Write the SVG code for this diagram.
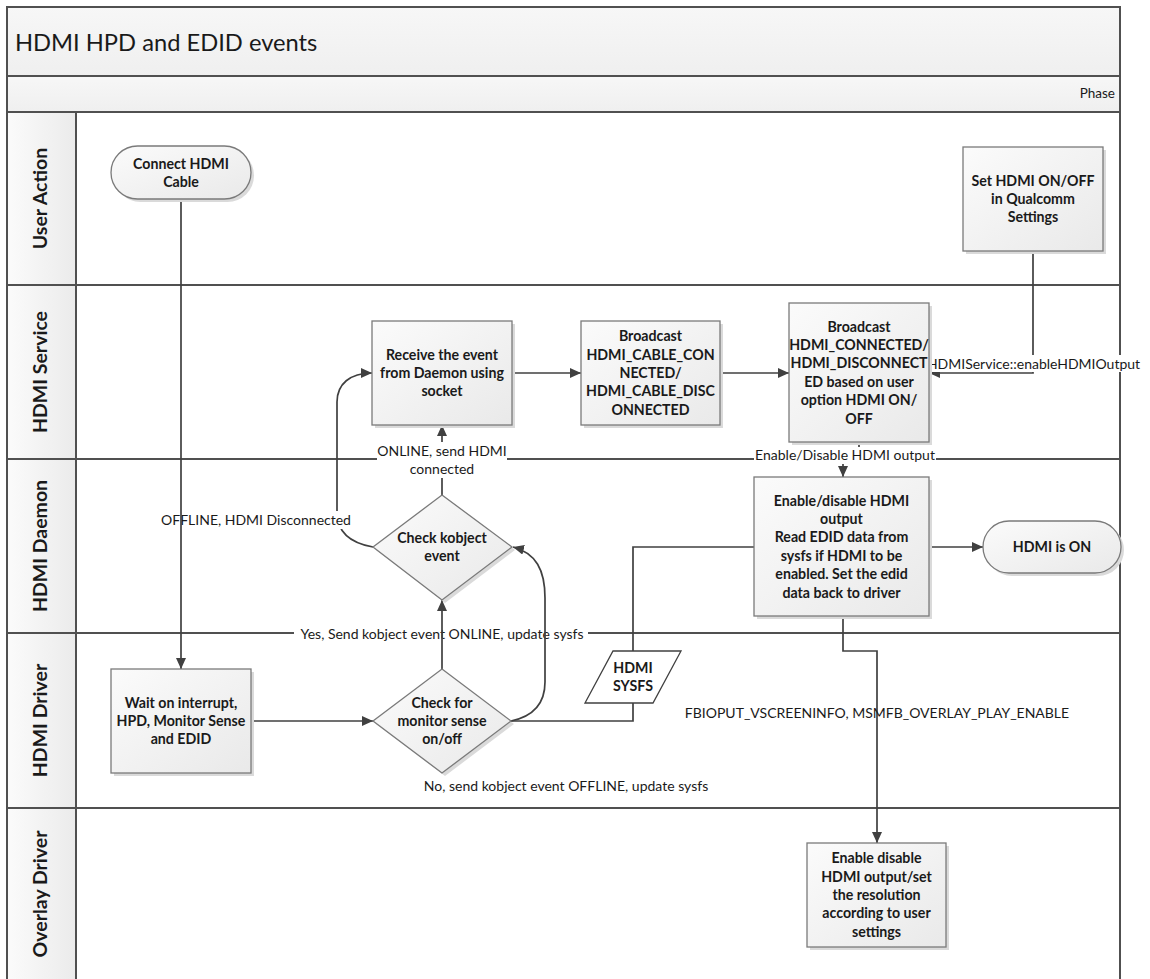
<svg xmlns="http://www.w3.org/2000/svg" width="1150" height="979" viewBox="0 0 1150 979">
  <defs>
    <linearGradient id="bandFill" x1="0" y1="0" x2="0" y2="1">
      <stop offset="0" stop-color="#f7f7f7"/>
      <stop offset="1" stop-color="#efefef"/>
    </linearGradient>
    <linearGradient id="laneHead" x1="0" y1="0" x2="1" y2="0">
      <stop offset="0" stop-color="#fbfbfb"/>
      <stop offset="1" stop-color="#ebebeb"/>
    </linearGradient>
    <linearGradient id="nodeFill" x1="0" y1="0" x2="1" y2="1">
      <stop offset="0" stop-color="#fbfbfb"/>
      <stop offset="1" stop-color="#e9e9e9"/>
    </linearGradient>
    <marker id="arrow" markerUnits="userSpaceOnUse" markerWidth="11" markerHeight="10" refX="11" refY="5" orient="auto">
      <path d="M0,0 L11,5 L0,10 z" fill="#404040"/>
    </marker>
    <style>
      .frame { fill: none; stroke: #505050; stroke-width: 2; }
      .lane { stroke: #505050; stroke-width: 2; }
      .lanetxt { font-family: Lato, "Liberation Sans", sans-serif; font-weight: 700; font-size: 19.5px; fill: #1a1a1a; text-anchor: middle; }
      .box { fill: url(#nodeFill); stroke: #7a7a7a; stroke-width: 1.3; }
      .shadow { fill: #dadada; }
      .nt { font-family: Lato, "Liberation Sans", sans-serif; font-weight: 700; font-size: 14.2px; fill: #1a1a1a; text-anchor: middle; }
      .lb { font-family: Lato, "Liberation Sans", sans-serif; font-weight: 400; font-size: 14px; fill: #1a1a1a; text-anchor: middle; }
      .bg { fill: #ffffff; }
      .conn { fill: none; stroke: #404040; stroke-width: 1.7; }
    </style>
  </defs>

  <rect x="0" y="0" width="1150" height="979" fill="#ffffff"/>

  <!-- pool: title band, phase band, lane headers -->
  <g id="pool">
    <rect x="7" y="7" width="1113" height="69" fill="url(#bandFill)"/>
    <rect x="7" y="76" width="1113" height="36" fill="url(#bandFill)"/>
    <rect x="7" y="112" width="69" height="870" fill="url(#laneHead)"/>
    <text x="15" y="51" font-family="Lato, 'Liberation Sans', sans-serif" font-size="23.7" fill="#1a1a1a">HDMI HPD and EDID events</text>
    <text x="1115" y="98" font-family="Lato, 'Liberation Sans', sans-serif" font-size="13.5" fill="#1a1a1a" text-anchor="end">Phase</text>
    <path class="frame" d="M7,985 V7 H1120 V985"/>
    <line class="lane" x1="7" y1="76" x2="1120" y2="76"/>
    <line class="lane" x1="7" y1="112" x2="1120" y2="112"/>
    <line class="lane" x1="76" y1="112" x2="76" y2="985"/>
    <line class="lane" x1="7" y1="285" x2="1120" y2="285"/>
    <line class="lane" x1="7" y1="459" x2="1120" y2="459"/>
    <line class="lane" x1="7" y1="633" x2="1120" y2="633"/>
    <line class="lane" x1="7" y1="808" x2="1120" y2="808"/>
  </g>

  <g id="lane-user-action"><text class="lanetxt" transform="translate(47,198.5) rotate(-90)">User Action</text></g>
  <g id="lane-hdmi-service"><text class="lanetxt" transform="translate(47,372) rotate(-90)">HDMI Service</text></g>
  <g id="lane-hdmi-daemon"><text class="lanetxt" transform="translate(47,546) rotate(-90)">HDMI Daemon</text></g>
  <g id="lane-hdmi-driver"><text class="lanetxt" transform="translate(47,720.5) rotate(-90)">HDMI Driver</text></g>
  <g id="lane-overlay-driver"><text class="lanetxt" transform="translate(47,894) rotate(-90)">Overlay Driver</text></g>

  <!-- connectors and their labels -->
  <g id="connectors">
    <!-- OFFLINE branch back to the service -->
    <path class="conn" d="M373,547 C350,543 337,532 337,512 L337,402 C337,384 350,373 372,373" marker-end="url(#arrow)"/>
    <rect class="bg" x="164" y="511" width="184" height="18"/>
    <text class="lb" x="256" y="525">OFFLINE, HDMI Disconnected</text>

    <!-- ONLINE branch up to the service -->
    <path class="conn" d="M442,495 V425" marker-end="url(#arrow)"/>
    <rect class="bg" x="377" y="442" width="130" height="36"/>
    <text class="lb" x="442" y="456">ONLINE, send HDMI</text>
    <text class="lb" x="442" y="474">connected</text>

    <!-- settings to service -->
    <path class="conn" d="M1033,251 V373 H929" marker-end="url(#arrow)"/>
    <rect class="bg" x="926" y="355" width="215" height="17"/>
    <text class="lb" x="1033.5" y="369">HDMIService::enableHDMIOutput</text>

    <!-- service to daemon -->
    <path class="conn" d="M859,442 V452 H843 V477" marker-end="url(#arrow)"/>
    <rect class="bg" x="754" y="447" width="182" height="17"/>
    <text class="lb" x="845" y="460">Enable/Disable HDMI output</text>

    <!-- Yes branch: driver check to kobject check -->
    <rect class="bg" x="294" y="625" width="294" height="18"/>
    <text class="lb" x="442" y="639">Yes, Send kobject event ONLINE, update sysfs</text>
    <path class="conn" d="M442,669 V600" marker-end="url(#arrow)"/>

    <!-- No branch -->
    <path class="conn" d="M511,721 C535,716 545,702 545,682 L545,598 C545,570 536,553 513,547" marker-end="url(#arrow)"/>
    <text class="lb" x="566" y="791">No, send kobject event OFFLINE, update sysfs</text>

    <!-- cable plug to driver wait -->
    <path class="conn" d="M181,199 V669" marker-end="url(#arrow)"/>

    <!-- driver wait to monitor sense check -->
    <path class="conn" d="M251,721 H373" marker-end="url(#arrow)"/>

    <!-- sysfs path -->
    <path class="conn" d="M511,721 H633 V703"/>
    <path class="conn" d="M633,651 V547 H754"/>

    <!-- service row -->
    <path class="conn" d="M512,373 H581" marker-end="url(#arrow)"/>
    <path class="conn" d="M720,373 H789" marker-end="url(#arrow)"/>

    <!-- daemon to HDMI is ON -->
    <path class="conn" d="M929,547 H983" marker-end="url(#arrow)"/>

    <!-- daemon to overlay driver -->
    <path class="conn" d="M843,616 V651 H877 V843" marker-end="url(#arrow)"/>
    <text class="lb" x="877" y="718">FBIOPUT_VSCREENINFO, MSMFB_OVERLAY_PLAY_ENABLE</text>
  </g>

  <!-- nodes -->
  <g id="connect-hdmi-cable">
    <rect class="shadow" x="114" y="149" width="140" height="53" rx="26.5"/>
    <rect class="box" x="111" y="146" width="140" height="53" rx="26.5"/>
    <text class="nt" x="181" y="168.5">Connect HDMI</text>
    <text class="nt" x="181" y="186.8">Cable</text>
  </g>

  <g id="set-hdmi-on-off">
    <rect class="shadow" x="966" y="150" width="140" height="104"/>
    <rect class="box" x="963" y="147" width="140" height="104"/>
    <text class="nt" x="1033" y="185.7">Set HDMI ON/OFF</text>
    <text class="nt" x="1033" y="204">in Qualcomm</text>
    <text class="nt" x="1033" y="222.3">Settings</text>
  </g>

  <g id="receive-event">
    <rect class="shadow" x="375" y="324" width="140" height="104"/>
    <rect class="box" x="372" y="321" width="140" height="104"/>
    <text class="nt" x="442" y="359.7">Receive the event</text>
    <text class="nt" x="442" y="378">from Daemon using</text>
    <text class="nt" x="442" y="396.3">socket</text>
  </g>

  <g id="broadcast-cable">
    <rect class="shadow" x="584" y="324" width="139" height="104"/>
    <rect class="box" x="581" y="321" width="139" height="104"/>
    <text class="nt" x="650.5" y="341.4">Broadcast</text>
    <text class="nt" x="650.5" y="359.7">HDMI_CABLE_CON</text>
    <text class="nt" x="650.5" y="378">NECTED/</text>
    <text class="nt" x="650.5" y="396.3">HDMI_CABLE_DISC</text>
    <text class="nt" x="650.5" y="414.6">ONNECTED</text>
  </g>

  <g id="broadcast-connected">
    <rect class="shadow" x="792" y="306" width="140" height="139"/>
    <rect class="box" x="789" y="303" width="140" height="139"/>
    <text class="nt" x="859" y="331.5">Broadcast</text>
    <text class="nt" x="859" y="349.9">HDMI_CONNECTED/</text>
    <text class="nt" x="859" y="368.3">HDMI_DISCONNECT</text>
    <text class="nt" x="859" y="386.7">ED based on user</text>
    <text class="nt" x="859" y="405.1">option HDMI ON/</text>
    <text class="nt" x="859" y="423.5">OFF</text>
  </g>

  <g id="daemon-enable">
    <rect class="shadow" x="757" y="480" width="175" height="139"/>
    <rect class="box" x="754" y="477" width="175" height="139"/>
    <text class="nt" x="841.5" y="505.5">Enable/disable HDMI</text>
    <text class="nt" x="841.5" y="523.9">output</text>
    <text class="nt" x="841.5" y="542.3">Read EDID data from</text>
    <text class="nt" x="841.5" y="560.7">sysfs if HDMI to be</text>
    <text class="nt" x="841.5" y="579.1">enabled. Set the edid</text>
    <text class="nt" x="841.5" y="597.5">data back to driver</text>
  </g>

  <g id="hdmi-is-on">
    <rect class="shadow" x="986" y="524" width="138" height="52" rx="26"/>
    <rect class="box" x="983" y="521" width="138" height="52" rx="26"/>
    <text class="nt" x="1052" y="552">HDMI is ON</text>
  </g>

  <g id="check-kobject">
    <polygon class="shadow" points="445,498 515,550 445,603 376,550"/>
    <polygon class="box" points="442,495 512,547 442,600 373,547"/>
    <text class="nt" x="442" y="542.8">Check kobject</text>
    <text class="nt" x="442" y="561.2">event</text>
  </g>

  <g id="wait-interrupt">
    <rect class="shadow" x="114" y="672" width="140" height="104"/>
    <rect class="box" x="111" y="669" width="140" height="104"/>
    <text class="nt" x="181" y="707.7">Wait on interrupt,</text>
    <text class="nt" x="181" y="726">HPD, Monitor Sense</text>
    <text class="nt" x="181" y="744.3">and EDID</text>
  </g>

  <g id="check-monitor-sense">
    <polygon class="shadow" points="445,672 514,724 445,776 376,724"/>
    <polygon class="box" points="442,669 511,721 442,773 373,721"/>
    <text class="nt" x="442" y="707.7">Check for</text>
    <text class="nt" x="442" y="726">monitor sense</text>
    <text class="nt" x="442" y="744.3">on/off</text>
  </g>

  <g id="hdmi-sysfs">
    <polygon points="613,651 681,651 653,703 585,703" fill="#ffffff" stroke="#404040" stroke-width="1.3"/>
    <text class="nt" x="633" y="672.8">HDMI</text>
    <text class="nt" x="633" y="691.2">SYSFS</text>
  </g>

  <g id="overlay-enable">
    <rect class="shadow" x="810" y="846" width="139" height="104"/>
    <rect class="box" x="807" y="843" width="139" height="104"/>
    <text class="nt" x="876.5" y="863.4">Enable disable</text>
    <text class="nt" x="876.5" y="881.7">HDMI output/set</text>
    <text class="nt" x="876.5" y="900">the resolution</text>
    <text class="nt" x="876.5" y="918.3">according to user</text>
    <text class="nt" x="876.5" y="936.6">settings</text>
  </g>
</svg>
